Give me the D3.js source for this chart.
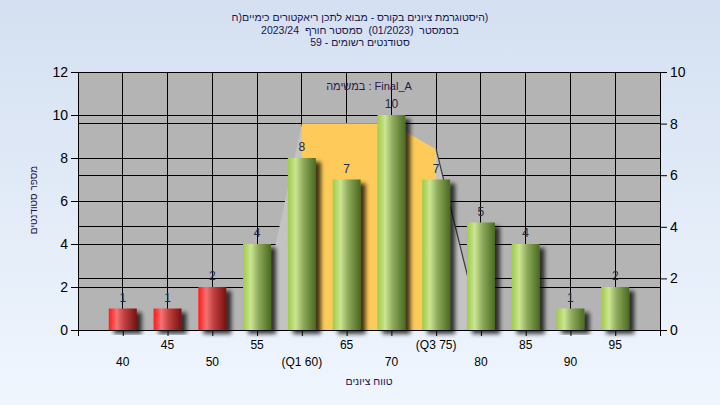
<!DOCTYPE html>
<html><head><meta charset="utf-8">
<script src="https://cdn.jsdelivr.net/npm/d3@7"></script>
<style>
html,body{margin:0;padding:0;width:720px;height:405px;overflow:hidden;}
svg{display:block;font-family:"Liberation Sans",Arial,sans-serif;}
text{white-space:pre;}
</style></head>
<body>
<script>
// ---------------- data ----------------
const grades = [40,45,50,55,60,65,70,75,80,85,90,95];
const counts = [1,1,2,4,8,7,10,7,5,4,1,2];
const tickLabels = ["40","45","50","55","(Q1 60)","65","70","(Q3 75)","80","85","90","95"];
const curveGrades = [55,60,65,70,75,80];
const curveValues = [0,8,8,8,7,0];
const quartiles = [60,75];
const leftTicks = [0,2,4,6,8,10,12];
const rightTicks = [0,2,4,6,8,10];
const xTicks = [35,40,45,50,55,60,65,70,75,80,85,90,95,100];
const passGrade = 55;
const titleLines = [
  "(היסטוגרמת ציונים בקורס - מבוא לתכן ריאקטורים כימיים(ח",
  "בסמסטר  (01/2023)  סמסטר חורף  2023/24",
  "סטודנטים רשומים - 59"
];
const xTitle = "טווח ציונים";
const yTitle = "מספר סטודנטים";
const taskLabel = "במשימה : Final_A";

const W = 720, H = 405;
const svg = d3.select("body").append("svg").attr("width",W).attr("height",H);
const defs = svg.append("defs");

const bg = defs.append("linearGradient").attr("id","bg").attr("x1",0).attr("y1",0).attr("x2",0).attr("y2",1);
bg.append("stop").attr("offset","0%").attr("stop-color","#d4e0f1");
bg.append("stop").attr("offset","100%").attr("stop-color","#f0f6fe");

function barGrad(id, stops){
  const g = defs.append("linearGradient").attr("id",id).attr("x1",0).attr("y1",0).attr("x2",1).attr("y2",0);
  stops.forEach(s => g.append("stop").attr("offset",s[0]).attr("stop-color",s[1]));
}
barGrad("red",[["0%","#ff1e1e"],["12%","#ff3a3a"],["28%","#f27474"],["55%","#c24040"],["100%","#761212"]]);
barGrad("green",[["0%","#a2ca4c"],["12%","#b2d664"],["28%","#cbe592"],["55%","#8eaa5c"],["100%","#4a6a20"]]);

const f = defs.append("filter").attr("id","shadow").attr("x","-20%").attr("y","-20%").attr("width","160%").attr("height","140%");
f.append("feGaussianBlur").attr("in","SourceAlpha").attr("stdDeviation",2).attr("result","b");
f.append("feOffset").attr("in","b").attr("dx",5).attr("dy",4).attr("result","o");
f.append("feComponentTransfer").attr("in","o").attr("result","o2")
  .append("feFuncA").attr("type","linear").attr("slope",0.75);
const fm = f.append("feMerge");
fm.append("feMergeNode").attr("in","o2");
fm.append("feMergeNode").attr("in","SourceGraphic");

svg.append("rect").attr("width",W).attr("height",H).attr("fill","url(#bg)");

// ---------------- scales ----------------
const X0 = 78, X1 = 660, Y0 = 72, Y1 = 330;
const x = d3.scaleLinear().domain([35,100]).range([X0,X1]);
const yL = d3.scaleLinear().domain([0,12]).range([Y1,Y0]);
const yR = d3.scaleLinear().domain([0,10]).range([Y1,Y0]);
const barW = 28;

svg.append("rect").attr("x",X0).attr("y",Y0).attr("width",X1-X0).attr("height",Y1-Y0).attr("fill","#b4b4b4");

// grid
const grid = svg.append("g").attr("stroke","#000").attr("stroke-width",1).attr("shape-rendering","crispEdges");
grid.selectAll(".gl").data(leftTicks.slice(1)).join("line").attr("class","gl")
  .attr("x1",X0).attr("x2",X1).attr("y1",d=>yL(d)).attr("y2",d=>yL(d));
grid.selectAll(".gr").data(rightTicks.slice(1)).join("line").attr("class","gr")
  .attr("x1",X0).attr("x2",X1).attr("y1",d=>yR(d)).attr("y2",d=>yR(d));
grid.selectAll(".gv").data(grades).join("line").attr("class","gv")
  .attr("x1",d=>x(d)).attr("x2",d=>x(d)).attr("y1",Y0).attr("y2",Y1);

// distribution area (right axis)
const curve = curveGrades.map((g,i)=>({g, v:curveValues[i]}));
const area = d3.area().x(d=>x(d.g)).y0(yR(0)).y1(d=>yR(d.v));
svg.append("path").datum(curve).attr("d",area).attr("fill","#c3c3c3");
svg.append("path").datum(curve.filter(d=>d.g>=quartiles[0] && d.g<=quartiles[1]))
  .attr("d",area).attr("fill","#fecb5a");
svg.append("path").datum(curve.filter(d=>d.g>=quartiles[1]))
  .attr("d",d3.line().x(d=>x(d.g)).y(d=>yR(d.v)))
  .attr("fill","none").attr("stroke","#3a3a3a").attr("stroke-width",1.2);

// axes
svg.append("g").attr("transform",`translate(${X0},0)`)
  .call(d3.axisLeft(yL).tickValues(leftTicks).tickSize(7).tickPadding(3).tickSizeOuter(0))
  .call(g=>g.selectAll("text").attr("font-size",14).attr("font-family",null).attr("fill","#000"))
  .call(g=>g.selectAll("line,path").attr("stroke","#000"));
svg.append("g").attr("transform",`translate(${X1},0)`)
  .call(d3.axisRight(yR).tickValues(rightTicks).tickSize(7).tickPadding(3).tickSizeOuter(0))
  .call(g=>g.selectAll("text").attr("font-size",14).attr("font-family",null).attr("fill","#000"))
  .call(g=>g.selectAll("line,path").attr("stroke","#000"));
svg.selectAll(".domain").attr("shape-rendering","crispEdges");
svg.append("line").attr("x1",X0).attr("x2",X1).attr("y1",Y0).attr("y2",Y0)
  .attr("stroke","#000").attr("shape-rendering","crispEdges");
svg.append("g").attr("transform",`translate(0,${Y1})`)
  .call(d3.axisBottom(x).tickValues(xTicks).tickSize(6).tickFormat("").tickSizeOuter(0))
  .call(g=>g.selectAll("line,path").attr("stroke","#000"));

// bars
const bars = grades.map((g,i)=>({g, v:counts[i], label:tickLabels[i], i}));
svg.append("g").selectAll("rect").data(bars).join("rect")
  .attr("x",d=>x(d.g)-barW/2).attr("width",barW)
  .attr("y",d=>yL(d.v)).attr("height",d=>yL(0)-yL(d.v))
  .attr("fill",d=>d.g<passGrade?"url(#red)":"url(#green)")
  .attr("filter","url(#shadow)");

// value labels
svg.append("g").selectAll("text").data(bars).join("text")
  .attr("x",d=>x(d.g)).attr("y",d=>yL(d.v)-7)
  .attr("text-anchor","middle").attr("font-size",12).attr("fill","#1e2a48")
  .text(d=>d.v);

// category labels (staggered)
svg.append("g").selectAll("text").data(bars).join("text")
  .attr("x",d=>x(d.g)).attr("y",d=>d.i%2===0?366:349)
  .attr("text-anchor","middle").attr("font-size",12).attr("fill","#000")
  .text(d=>d.label);

// texts
svg.append("text").attr("x",(X0+X1)/2).attr("y",90).attr("text-anchor","middle")
  .attr("font-size",11).attr("fill","#2a1a4a").text(taskLabel);
svg.append("g").selectAll("text").data(titleLines).join("text")
  .attr("x",W/2).attr("y",(d,i)=>21+i*12.5).attr("text-anchor","middle")
  .attr("direction","rtl").style("direction","rtl").style("unicode-bidi","embed")
  .attr("font-size",10.5).attr("fill","#16164e").text(d=>d);
svg.append("text").attr("x",(X0+X1)/2).attr("y",385).attr("text-anchor","middle")
  .attr("font-size",10.5).attr("fill","#24104e").text(xTitle);
svg.append("text").attr("transform","translate(33,200) rotate(-90)")
  .attr("text-anchor","middle").attr("dominant-baseline","central")
  .attr("font-size",10).attr("fill","#24104e").text(yTitle);
</script>
</body></html>
